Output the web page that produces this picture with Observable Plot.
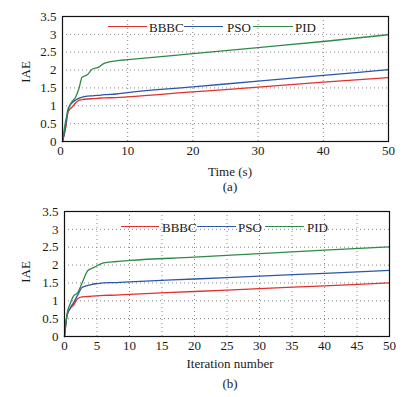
<!DOCTYPE html>
<html><head><meta charset="utf-8">
<script src="https://cdn.jsdelivr.net/npm/d3@7"></script>
<script src="https://cdn.jsdelivr.net/npm/@observablehq/plot@0.6"></script>
<style>
body{margin:0;background:#fff;font-family:"Liberation Serif","Times New Roman",serif;}
#wrap{position:relative;width:419px;height:397px;overflow:hidden;}
.t{position:absolute;font-size:13px;color:#1a1a1a;white-space:nowrap;transform:translate(-50%,-50%);line-height:1}
.yl{transform:translate(-50%,-50%) rotate(-90deg)}
.lgt{position:absolute;font-size:13px;color:#1a1a1a;line-height:1;transform:translateY(-50%);white-space:nowrap}
.sw{position:absolute;height:0;border-top:1.4px solid;}
</style>
</head><body><div id="wrap"></div>
<script>
// ---- data ----
const seriesNames = ["BBBC", "PSO", "PID"];
const seriesColors = ["#e2302c", "#2b57a7", "#2f8a47"];

// (a) IAE vs time
const timeA = [0, 0.5, 0.8, 1.1, 1.4, 2, 2.5, 3, 3.8, 4.6, 5.4, 6.4, 8.2, 10, 20, 30, 40, 50];
const bbbcA = [0, 0.4, 0.78, 0.9, 0.95, 1.08, 1.15, 1.17, 1.19, 1.2, 1.21, 1.22, 1.23, 1.25, 1.39, 1.52, 1.66, 1.79];
const psoA  = [0, 0.45, 0.88, 1.0, 1.07, 1.16, 1.21, 1.24, 1.27, 1.28, 1.29, 1.31, 1.33, 1.37, 1.53, 1.69, 1.85, 2.01];
const pidA  = [0, 0.59, 0.82, 1.0, 1.1, 1.24, 1.47, 1.8, 1.87, 2.03, 2.07, 2.19, 2.26, 2.29, 2.46, 2.63, 2.80, 2.99];

// (b) IAE vs iteration number
const iterB = [0, 0.4, 0.9, 1.4, 2, 2.7, 3.6, 4.25, 5, 6, 8, 10, 20, 30, 40, 50];
const bbbcB = [0, 0.6, 0.79, 0.88, 1.06, 1.11, 1.12, 1.13, 1.14, 1.15, 1.16, 1.18, 1.26, 1.34, 1.42, 1.5];
const psoB  = [0, 0.6, 0.8, 0.95, 1.15, 1.37, 1.43, 1.46, 1.48, 1.5, 1.51, 1.53, 1.61, 1.69, 1.77, 1.85];
const pidB  = [0, 0.64, 0.93, 1.14, 1.22, 1.5, 1.85, 1.91, 1.98, 2.06, 2.1, 2.13, 2.22, 2.32, 2.42, 2.51];

// ticks
const yTicks = [0, 0.5, 1, 1.5, 2, 2.5, 3, 3.5];
const xTicksA = [0, 10, 20, 30, 40, 50];
const xTicksB = [0, 5, 10, 15, 20, 25, 30, 35, 40, 45, 50];

const FONT = '"Liberation Serif","Times New Roman",serif';

function rows(xs, list) {
  const out = [];
  list.forEach((vals, k) => xs.forEach((x, i) => out.push({x, y: vals[i], s: seriesNames[k]})));
  return out;
}

function chart(xs, list, xTicks, m) {
  const data = rows(xs, list);
  const inner = a => a.filter(v => v > 0 && v < 50);
  const innerY = yTicks.filter(v => v > 0 && v < 3.5);
  const tickText = (vals, dx) => Plot.text(vals, {x: d => d, text: d => String(d), frameAnchor: "bottom",
    lineAnchor: "top", dy: 4, dx, fontSize: 13, fill: "#1a1a1a"});
  return Plot.plot({
    width: 419, height: m.height,
    marginTop: m.top, marginBottom: m.bottom, marginLeft: m.left, marginRight: m.right,
    style: {fontFamily: FONT, fontSize: "13px", color: "#1a1a1a", background: "transparent", overflow: "visible"},
    x: {domain: [0, 50], ticks: xTicks, axis: null},
    y: {domain: [0, 3.5], ticks: yTicks, tickFormat: d => String(d), tickSize: 0, tickPadding: 6, label: null},
    color: {domain: seriesNames, range: seriesColors},
    marks: [
      Plot.ruleX(inner(xTicks), {stroke: "#888", strokeWidth: 1, strokeDasharray: "1,3"}),
      Plot.ruleY(innerY, {stroke: "#888", strokeWidth: 1, strokeDasharray: "1,3"}),
      Plot.lineY(data, {x: "x", y: "y", stroke: "s", z: "s", curve: "monotone-x", strokeWidth: 1.3}),
      Plot.frame({stroke: "#111", strokeWidth: 1.2}),
      tickText(xTicks.filter(v => v === 0), m.zeroDx),
      tickText(xTicks.filter(v => v !== 0), 0)
    ]
  });
}

const wrap = document.getElementById("wrap");

const svgA = chart(timeA, [bbbcA, psoA, pidA], xTicksA, {height: 162, top: 16, bottom: 21, left: 62, right: 31, zeroDx: -2});
svgA.style.position = "absolute"; svgA.style.left = "0px"; svgA.style.top = "0px";
wrap.appendChild(svgA);

const svgB = chart(iterB, [bbbcB, psoB, pidB], xTicksB, {height: 162, top: 16, bottom: 21, left: 64, right: 30, zeroDx: 0});
svgB.style.position = "absolute"; svgB.style.left = "0px"; svgB.style.top = "195px";
wrap.appendChild(svgB);

function text(str, x, y, cls) {
  const d = document.createElement("div");
  d.className = "t" + (cls ? " " + cls : "");
  d.textContent = str;
  d.style.left = x + "px"; d.style.top = y + "px";
  wrap.appendChild(d);
}
text("IAE", 25, 72, "yl");
text("Time (s)", 230, 171);
text("(a)", 230, 186);
text("IAE", 25, 272, "yl");
text("Iteration number", 230, 363);
text("(b)", 230, 383);

function legend(y, parts) {
  parts.forEach((p, k) => {
    const sw = document.createElement("div");
    sw.className = "sw";
    sw.style.left = p[0] + "px"; sw.style.width = (p[1] - p[0]) + "px";
    sw.style.top = y + "px"; sw.style.borderColor = seriesColors[k];
    wrap.appendChild(sw);
    const t = document.createElement("div");
    t.className = "lgt";
    t.textContent = seriesNames[k];
    t.style.left = p[2] + "px"; t.style.top = (y + 1) + "px";
    wrap.appendChild(t);
  });
}
legend(26, [[108, 147, 149], [184, 223, 227], [253, 293, 295]]);
legend(226, [[121, 159, 162], [197, 236, 238], [265, 304, 307]]);
</script>
</body></html>
